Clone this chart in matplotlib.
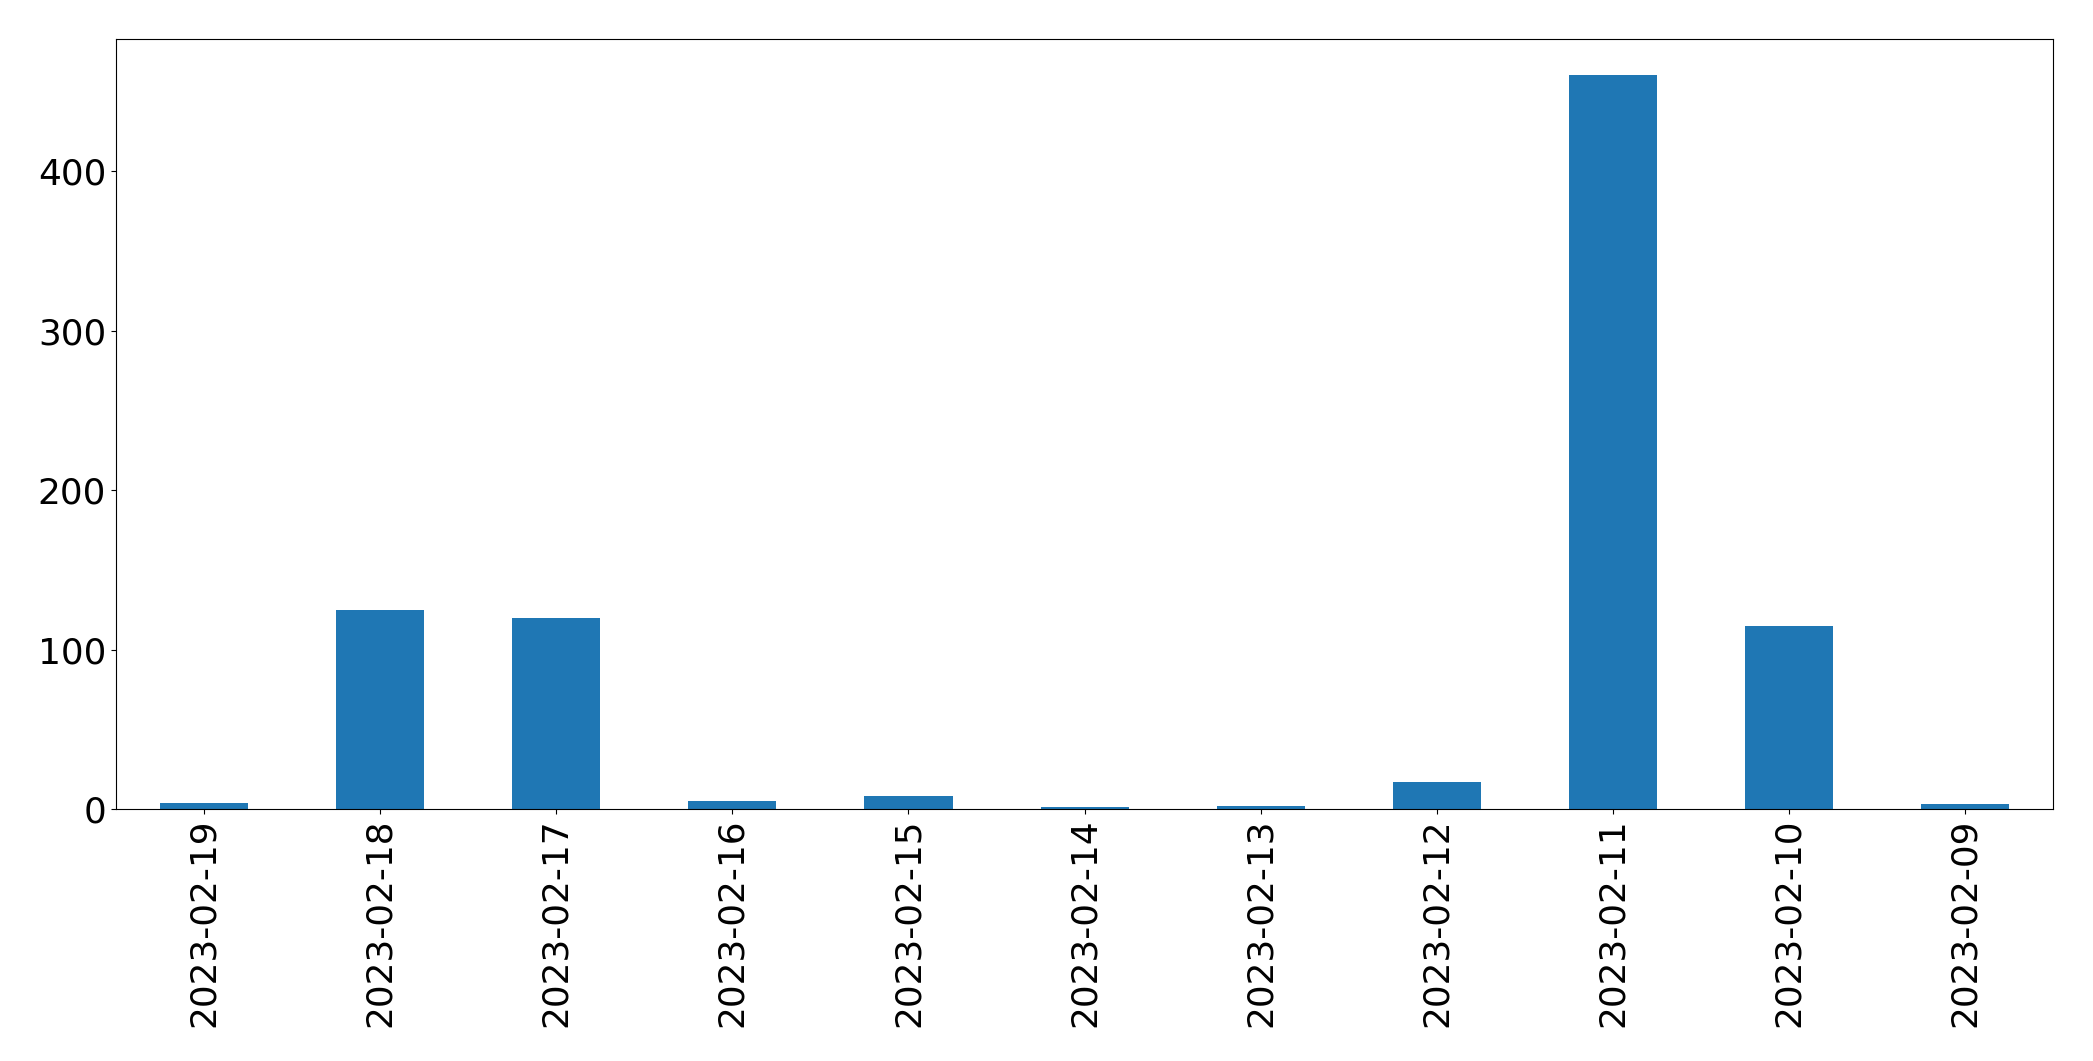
import pandas as pd
import matplotlib
matplotlib.use('Agg')
import matplotlib.pyplot as plt

# Daily counts, newest first (as in the original plot)
dates = ['2023-02-19', '2023-02-18', '2023-02-17', '2023-02-16', '2023-02-15',
         '2023-02-14', '2023-02-13', '2023-02-12', '2023-02-11', '2023-02-10',
         '2023-02-09']
counts = [4, 125, 120, 5, 8, 1, 2, 17, 460, 115, 3]

daily_counts = pd.Series(counts, index=dates)

fig = plt.figure(figsize=(20.93, 10.61), dpi=100)
ax = daily_counts.plot(kind='bar', fontsize=25.8)
ax.set_xlabel('')
plt.subplots_adjust(left=0.0554, right=0.981, top=0.9635, bottom=0.2375)

plt.savefig('out.png', dpi=100)
